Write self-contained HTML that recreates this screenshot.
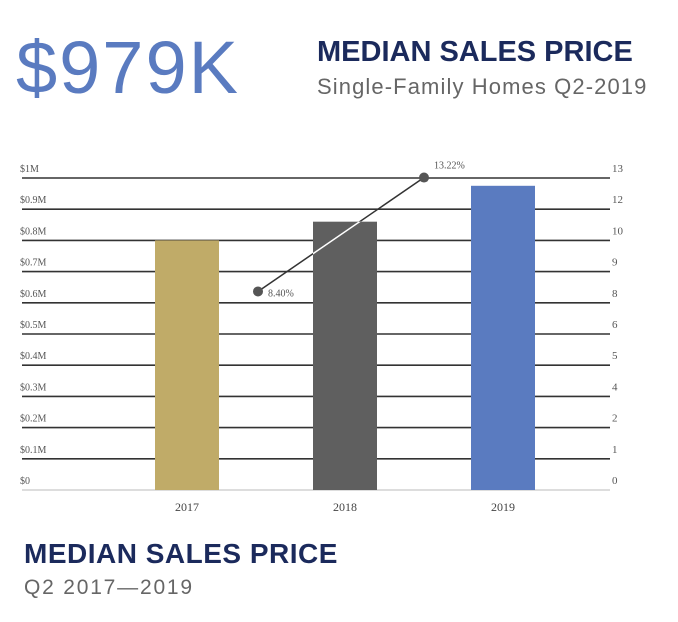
<!DOCTYPE html>
<html><head><meta charset="utf-8"><style>
body{margin:0;background:#fff;width:678px;height:622px;overflow:hidden;font-family:"Liberation Sans",sans-serif;position:relative}
.t{position:absolute;white-space:nowrap}
</style></head><body>
<div class="t" style="left:16px;top:25px;font-size:74px;color:#5a7bc0;letter-spacing:2px">$979K</div>
<div class="t" style="left:317px;top:36px;font-size:29px;font-weight:bold;color:#1b2a5c">MEDIAN SALES PRICE</div>
<div class="t" style="left:317px;top:74px;font-size:22px;color:#666;letter-spacing:1.1px">Single-Family Homes Q2-2019</div>
<div class="t" style="left:24px;top:538px;font-size:28px;font-weight:bold;color:#1b2a5c;letter-spacing:0.5px">MEDIAN SALES PRICE</div>
<div class="t" style="left:24px;top:576px;font-size:21px;color:#666;letter-spacing:1.8px">Q2 2017—2019</div>
<svg id="chart" width="678" height="622" style="position:absolute;left:0;top:0"></svg>
<script>
const categories=["2017","2018","2019"];
const prices=[0.80,0.86,0.975];
const growth=[8.40,13.22];
const growthLabels=["8.40%","13.22%"];
const leftTicks=["$0","$0.1M","$0.2M","$0.3M","$0.4M","$0.5M","$0.6M","$0.7M","$0.8M","$0.9M","$1M"];
const rightTicks=["0","1","2","4","5","6","8","9","10","12","13"];
const colors=["#c0ab68","#5f5f5f","#5a7bc0"];
const svg=document.getElementById('chart');const NS="http://www.w3.org/2000/svg";
const y0=490,y1=178,xl=22,xr=610;
const yL=v=>y0-(v/1)*(y0-y1);
const yR=v=>y0-(v/13.2)*(y0-y1);
const xC=i=>187+i*158;
function mk(t,a){const e=document.createElementNS(NS,t);for(const k in a)e.setAttribute(k,a[k]);svg.appendChild(e);return e;}
leftTicks.forEach((l,i)=>{const y=yL(i/10);
const g=mk('line',{x1:xl,x2:xr,y1:y,y2:y,stroke:i==0?'#bbb':'#333','stroke-width':i==0?1:1.6});


const t=mk('text',{x:20,y:y-6,'font-size':10,fill:'#555','font-family':'Liberation Serif'});t.textContent=l;


const r=mk('text',{x:612,y:y-6,'font-size':11,fill:'#555','font-family':'Liberation Serif'});r.textContent=rightTicks[i];

});
categories.forEach((c,i)=>{
const b=mk('rect',{x:xC(i)-32,y:yL(prices[i]),width:64,height:y0-yL(prices[i]),fill:colors[i]});


const t=mk('text',{x:xC(i),y:511,'font-size':12,fill:'#444','text-anchor':'middle','font-family':'Liberation Serif'});t.textContent=c;

});
const px=growth.map((g,i)=>xC(i)+71+i*8);
const defs=mk('defs',{});const cp=document.createElementNS(NS,'clipPath');cp.setAttribute('id','cb');defs.appendChild(cp);
const cr=document.createElementNS(NS,'rect');cr.setAttribute('x',xC(1)-32);cr.setAttribute('y',yL(prices[1]));cr.setAttribute('width',64);cr.setAttribute('height',y0-yL(prices[1]));cp.appendChild(cr);
const l=mk('line',{x1:px[0],y1:yR(growth[0]),x2:px[1],y2:yR(growth[1]),stroke:'#333','stroke-width':1.5});


const l2=mk('line',{x1:px[0],y1:yR(growth[0]),x2:px[1],y2:yR(growth[1]),stroke:'#fff','stroke-width':1.5,'clip-path':'url(#cb)'});


growth.forEach((g,i)=>{
const d=mk('circle',{cx:px[i],cy:yR(g),r:5,fill:'#555'});


const t=mk('text',{x:px[i]+10,y:i==0?yR(g)+5:yR(g)-9,'font-size':10,fill:'#555','font-family':'Liberation Serif'});t.textContent=growthLabels[i];

});
</script>
</body></html>
